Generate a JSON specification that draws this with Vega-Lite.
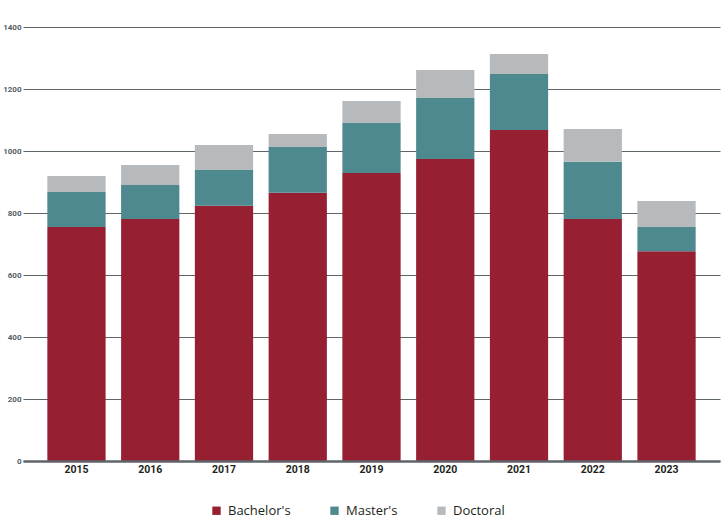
{
  "$schema": "https://vega.github.io/schema/vega-lite/v6.json",
  "width": 697,
  "height": 434,
  "autosize": {"type": "none"},
  "padding": {"left": 23, "top": 27, "right": 1, "bottom": 59},
  "data": {
    "values": [
      {"year": "2015", "degree": "Bachelor's", "k": 1, "count": 755},
      {"year": "2015", "degree": "Master's", "k": 2, "count": 113},
      {"year": "2015", "degree": "Doctoral", "k": 3, "count": 51},
      {"year": "2016", "degree": "Bachelor's", "k": 1, "count": 781},
      {"year": "2016", "degree": "Master's", "k": 2, "count": 109},
      {"year": "2016", "degree": "Doctoral", "k": 3, "count": 65},
      {"year": "2017", "degree": "Bachelor's", "k": 1, "count": 823},
      {"year": "2017", "degree": "Master's", "k": 2, "count": 116},
      {"year": "2017", "degree": "Doctoral", "k": 3, "count": 80},
      {"year": "2018", "degree": "Bachelor's", "k": 1, "count": 865},
      {"year": "2018", "degree": "Master's", "k": 2, "count": 148},
      {"year": "2018", "degree": "Doctoral", "k": 3, "count": 42},
      {"year": "2019", "degree": "Bachelor's", "k": 1, "count": 929},
      {"year": "2019", "degree": "Master's", "k": 2, "count": 161},
      {"year": "2019", "degree": "Doctoral", "k": 3, "count": 71},
      {"year": "2020", "degree": "Bachelor's", "k": 1, "count": 974},
      {"year": "2020", "degree": "Master's", "k": 2, "count": 197},
      {"year": "2020", "degree": "Doctoral", "k": 3, "count": 90},
      {"year": "2021", "degree": "Bachelor's", "k": 1, "count": 1068},
      {"year": "2021", "degree": "Master's", "k": 2, "count": 180},
      {"year": "2021", "degree": "Doctoral", "k": 3, "count": 65},
      {"year": "2022", "degree": "Bachelor's", "k": 1, "count": 781},
      {"year": "2022", "degree": "Master's", "k": 2, "count": 184},
      {"year": "2022", "degree": "Doctoral", "k": 3, "count": 106},
      {"year": "2023", "degree": "Bachelor's", "k": 1, "count": 677},
      {"year": "2023", "degree": "Master's", "k": 2, "count": 78},
      {"year": "2023", "degree": "Doctoral", "k": 3, "count": 84}
    ]
  },
  "mark": {"type": "bar"},
  "encoding": {
    "x": {
      "field": "year",
      "type": "ordinal",
      "title": null,
      "scale": {"paddingInner": 0.21, "paddingOuter": 0.33},
      "axis": {
        "labelAngle": 0,
        "labelFont": "Roboto",
        "labelFontWeight": "bold",
        "labelFontSize": 10.5,
        "labelColor": "#231f20",
        "labelPadding": 3,
        "ticks": false,
        "domainColor": "#5d6569",
        "domainWidth": 2.5,
        "zindex": 1
      }
    },
    "y": {
      "field": "count",
      "type": "quantitative",
      "stack": "zero",
      "title": null,
      "scale": {"domain": [0, 1400], "nice": false},
      "axis": {
        "values": [0, 200, 400, 600, 800, 1000, 1200, 1400],
        "format": "d",
        "domain": false,
        "ticks": false,
        "labelFont": "Roboto",
        "labelFontWeight": "bold",
        "labelFontSize": 8,
        "labelColor": "#555d63",
        "labelPadding": 2,
        "gridColor": "#5d6569",
        "gridWidth": 1,
        "gridOpacity": 1
      }
    },
    "color": {
      "field": "degree",
      "type": "nominal",
      "scale": {
        "domain": ["Bachelor's", "Master's", "Doctoral"],
        "range": ["#961f32", "#4f8990", "#b6babd"]
      },
      "legend": {
        "title": null,
        "orient": "none",
        "direction": "horizontal",
        "legendX": 187,
        "legendY": 477,
        "symbolType": "square",
        "symbolSize": 70,
        "symbolStrokeWidth": 0,
        "symbolOpacity": 1,
        "labelFont": "Open Sans",
        "labelFontSize": 13,
        "labelColor": "#231f20",
        "labelOffset": 5,
        "columnPadding": 37
      }
    },
    "order": {"field": "k", "type": "quantitative"}
  },
  "config": {
    "view": {"stroke": null}
  }
}
